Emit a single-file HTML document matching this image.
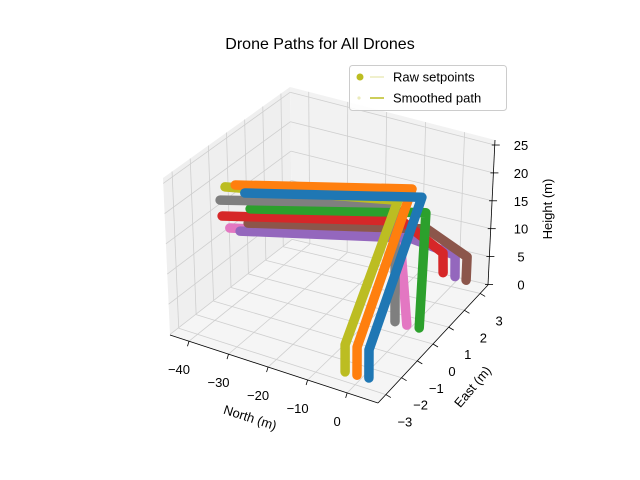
<!DOCTYPE html>
<html><head><meta charset="utf-8"><style>
body{margin:0;background:#fff}
svg{display:block;font-family:"Liberation Sans",sans-serif}
</style></head><body>
<svg id="chart" width="640" height="480" viewBox="0 0 640 480" xmlns="http://www.w3.org/2000/svg">
<rect width="640" height="480" fill="#fff"/>
<text x="320" y="49" text-anchor="middle" font-size="16">Drone Paths for All Drones</text>
<g id="panes"></g><g id="grid"></g><g id="axes"></g><g id="paths"></g>
<g>
<rect x="349.5" y="65.5" width="157" height="45" rx="3" fill="#fff" fill-opacity="0.85" stroke="#ccc"/>
<circle cx="360" cy="77" r="3.5" fill="#bcbd22"/>
<line x1="370" y1="77" x2="384" y2="77" stroke="#bcbd22" stroke-opacity="0.3" stroke-width="1.5"/>
<text x="393" y="81.5" font-size="13">Raw setpoints</text>
<circle cx="359" cy="98" r="1.6" fill="#bcbd22" fill-opacity="0.3"/>
<line x1="370" y1="98" x2="384" y2="98" stroke="#bcbd22" stroke-width="1.5"/>
<text x="393" y="102.5" font-size="13">Smoothed path</text>
</g>
<text x="250" y="422" text-anchor="middle" font-size="13" transform="rotate(18 250 418)">North (m)</text>
<text x="473" y="391" text-anchor="middle" font-size="13" transform="rotate(-50 473 387)">East (m)</text>
<text x="548" y="213" text-anchor="middle" font-size="13" transform="rotate(-90 548 209)">Height (m)</text>
</svg>
<script>
const xTicks=[-40,-30,-20,-10,0];
const yTicks=[-3,-2,-1,0,1,2,3];
const zTicks=[0,5,10,15,20,25];
const droneNames=["pink","purple","brown","red","green","gray","olive","orange","blue"];
const droneColors=["#e377c2","#9467bd","#8c564b","#d62728","#2ca02c","#7f7f7f","#bcbd22","#ff7f0e","#1f77b4"];
const pathPink=[[1.1,0,0.7],[-1.6,0,16.1],[-36.3,-2.1,16.1]];
const pathPurple=[[1.4,3,0],[1.2,3,3.8],[-2.15,0.82,13],[-36.6,-1.32,13]];
const pathBrown=[[4.2,3,0],[4.2,3,4.2],[1.45,0.97,15],[-34.6,-1.35,15]];
const pathRed=[[-1.6,3,0],[-1.85,3,3.5],[-3.9,0.71,16],[-40.0,-1.66,16]];
const pathGreen=[[4.2,0,0.9],[4.6,0,21.7],[-30.5,-2.36,21.7]];
const pathGray=[[-1.9,0,0.6],[-3.2,0,21.6],[-38.0,-2.38,21.6]];
const pathOlive=[[-2.6,-3,0.9],[-2.9,-3,5.7],[-2.5,0,22.3],[-38.7,-1.9,22.3]];
const pathOrange=[[0.4,-3,1.0],[0.1,-3,6.0],[-1.0,0.5,23.1],[-36.3,-1.87,23.1]];
const pathBlue=[[3.4,-3,1.2],[3.1,-3,6.2],[-0.3,1,20.2],[-35.7,-1.36,20.2]];
const allPaths=[pathPink,pathPurple,pathBrown,pathRed,pathGreen,pathGray,pathOlive,pathOrange,pathBlue];

const NS="http://www.w3.org/2000/svg";
const XR=[-44.8,7.8],YR=[-3.5,3.5],ZR=[-0.1,25.9];
function proj(x,y,z){
  return [378+(x-7.8)*3.954+(y+3.5)*15.71+(z+0.7)*0.25,
          403+(x-7.8)*1.293-(y+3.5)*17.57-(z+0.7)*5.56];
}
const F00=[170,335],F10=[378,403],F11=[488,285],F01=[292,240];
const T00=[163,178],T01=[290,87],T11=[495,140];
function lerp(a,b,t){return [a[0]+(b[0]-a[0])*t,a[1]+(b[1]-a[1])*t];}
function fx(v){return (v-XR[0])/(XR[1]-XR[0]);}
function fy(v){return (v-YR[0])/(YR[1]-YR[0]);}
function fz(v){return (v-ZR[0])/(ZR[1]-ZR[0]);}
function mk(tag,attrs,parent){const e=document.createElementNS(NS,tag);for(const k in attrs)e.setAttribute(k,attrs[k]);parent.appendChild(e);return e;}
const panes=document.getElementById('panes'),grid=document.getElementById('grid'),axes=document.getElementById('axes'),paths=document.getElementById('paths');
function poly(ps){return ps.map(p=>p[0].toFixed(1)+','+p[1].toFixed(1)).join(' ');}
let e;
e=mk('polygon',{points:poly([F00,F01,T01,T00]),fill:'#efefef'},panes);


e=mk('polygon',{points:poly([F01,F11,T11,T01]),fill:'#f2f2f2'},panes);


e=mk('polygon',{points:poly([F00,F10,F11,F01]),fill:'#f5f5f5'},panes);


function gl(a,b,name){
  const l=mk('line',{x1:a[0],y1:a[1],x2:b[0],y2:b[1],stroke:'#cfcfcf','stroke-width':0.8},grid);
  
  
}
xTicks.forEach(v=>{const t=fx(v);
  gl(lerp(F00,F10,t),lerp(F01,F11,t),'floor-grid-x');
  gl(lerp(F01,F11,t),lerp(T01,T11,t),'back-grid-x');});
yTicks.forEach(v=>{const t=fy(v);
  gl(lerp(F00,F01,t),lerp(F10,F11,t),'floor-grid-y');
  gl(lerp(F00,F01,t),lerp(T00,T01,t),'left-grid-y');});
zTicks.forEach(v=>{const t=fz(v);
  gl(lerp(F00,T00,t),lerp(F01,T01,t),'left-grid-z');
  gl(lerp(F01,T01,t),lerp(F11,T11,t),'back-grid-z');});
function al(a,b,name){
  const l=mk('line',{x1:a[0],y1:a[1],x2:b[0],y2:b[1],stroke:'#000','stroke-width':0.8},axes);
  
  
}
al(F00,F10,'x-axis-line');al(F10,F11,'y-axis-line');al(F11,T11,'z-axis-line');
function tl(x,y,s,name){
  const t=mk('text',{x:x,y:y,'text-anchor':'middle','font-size':13},axes);
  t.textContent=s;
  
  
}
function fmt(v){return v<0?'\u2212'+(-v):String(v);}
xTicks.forEach(v=>{const p=lerp(F00,F10,fx(v));
  al(p,[p[0]-1.5,p[1]+5],'x-tick');
  tl(p[0]-10,p[1]+33,fmt(v),'x-tick-label');});
yTicks.forEach(v=>{const t=fy(v);const p=lerp(F10,F11,t);
  al(p,[p[0]+5,p[1]+3],'y-tick');
  tl(p[0]+19,p[1]+32,fmt(v),'y-tick-label');});
zTicks.forEach(v=>{const p=lerp(F11,T11,fz(v));
  al([p[0]-3,p[1]],[p[0]+5,p[1]],'z-tick');
  tl(521,p[1]+5,fmt(v),'z-tick-label');});
allPaths.forEach((pts,i)=>{
  const s=pts.map(q=>proj(q[0],q[1],q[2]));
  const pl=mk('polyline',{points:poly(s),fill:'none',stroke:droneColors[i],'stroke-width':9.5,'stroke-linecap':'round','stroke-linejoin':'round'},paths);
  
  
});
</script>
</body></html>
